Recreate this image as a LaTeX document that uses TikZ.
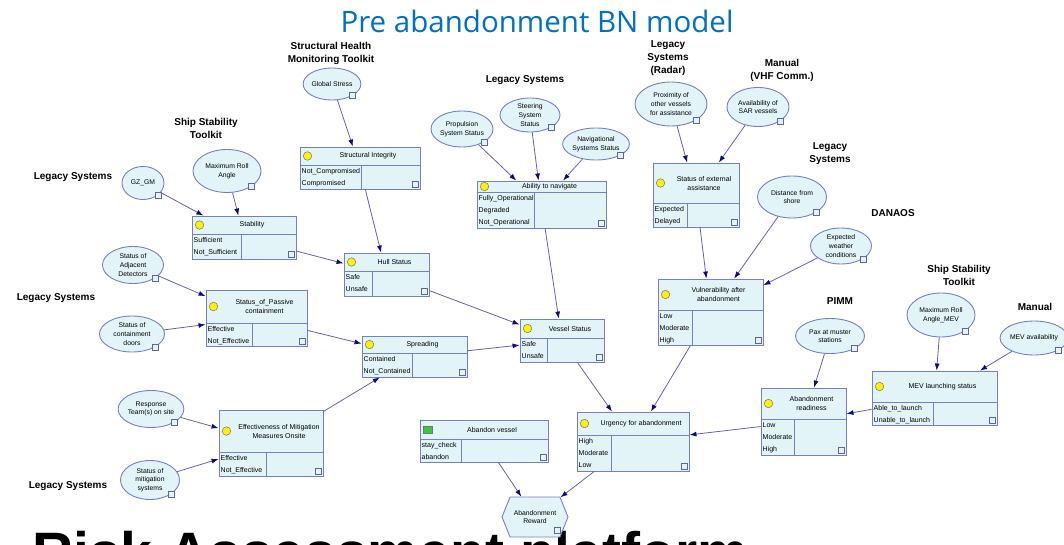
\documentclass[tikz,border=0pt]{standalone}
\usepackage{fontspec}
\setmainfont{Liberation Sans}
\newfontfamily\titlefont{Open Sans}
\usetikzlibrary{arrows.meta,shapes.geometric,shapes.symbols,fit}

\definecolor{bnfill}{RGB}{226,244,248}
\definecolor{bnborder}{RGB}{118,128,188}
\definecolor{bnline}{RGB}{100,100,160}
\definecolor{bntip}{RGB}{12,12,122}
\definecolor{titleblue}{RGB}{0,112,192}

\tikzset{
	bnbox/.style={draw=bnborder, fill=bnfill, line width=0.9pt, inner sep=0pt},
	bnrule/.style={draw=bnborder, line width=0.9pt},
	bnell/.style={ellipse, draw=bnborder, fill=bnfill, line width=0.9pt, inner sep=0pt, align=center, font=\fontsize{6.8}{8.6}\selectfont},
	bnhex/.style={signal, signal to=west and east, signal pointer angle=136, draw=bnborder, fill=bnfill, line width=0.9pt, minimum width=66pt, minimum height=40pt, inner sep=0pt, align=center, font=\fontsize{6.8}{8.6}\selectfont},
	bnmarker/.style={circle, draw=black!55, fill=yellow, minimum size=8.5pt, inner sep=0pt, line width=0.5pt},
	bnicon/.style={rectangle, draw=bnborder!80!black, fill=bnfill, minimum size=6pt, inner sep=0pt, line width=0.6pt},
	bntitle/.style={font=\fontsize{7}{9}\selectfont, align=center},
	bnstates/.style={font=\fontsize{7}{12}\selectfont, align=left, anchor=north west, inner xsep=1.5pt, inner ysep=3pt},
	bnarrow/.style={draw=bnline, line width=0.8pt, -{Latex[length=7pt,width=5pt,color=bntip]}},
	srclabel/.style={font=\bfseries\fontsize{10}{13}\selectfont, align=center},
}

\newcommand{\bnbox}[9]{%
	\node[bnbox, fit={(#2,#3) (#4,#5)}] (#1) {};
	\draw[bnrule] (#2,#6) -- (#4,#6) (#7,#6) -- (#7,#5);
	\node[bnmarker] at ({#2+7.5},{(#3+#6)/2}) {};
	\node[bntitle] at ({(#2+#4)/2+8},{(#3+#6)/2}) {#8};
	\node[bnstates] at (#2,#6) {#9};
	\node[bnicon, anchor=south east] at ({#4-1.5},{#5-1.5}) {};
}
\newcommand{\bnoval}[6]{%
	\node[bnell, minimum width=#4, minimum height=#5] (#1) at (#2,#3) {#6};
	\node[bnicon] at (#1.south east) {};
}

\begin{document}
\begin{tikzpicture}[x=1pt,y=-1pt]
			\useasboundingbox (0,0) rectangle (1064,545);

			\node[font=\titlefont\fontsize{29.5}{32}\selectfont, text=titleblue, anchor=base] (title) at (537,33) {Pre abandonment BN model};
			\node[font=\bfseries\fontsize{57}{60}\selectfont, anchor=north west, inner sep=0pt] (footer) at (32,531) {Risk Assessment platform};

			\node[srclabel] (lshm) at (331,53) {Structural Health\\Monitoring Toolkit};
			\node[srclabel] (lsst) at (206,128) {Ship Stability\\Toolkit};
			\node[srclabel] (lleg1) at (73,177) {Legacy Systems};
			\node[srclabel] (lleg2) at (525,80) {Legacy Systems};
			\node[srclabel] (lradar) at (668,58) {Legacy\\Systems\\(Radar)};
			\node[srclabel] (lvhf) at (782,70) {Manual\\(VHF Comm.)};
			\node[srclabel] (lleg3) at (830,154) {Legacy\\Systems};
			\node[srclabel] (ldanaos) at (893,213) {DANAOS};
			\node[srclabel] (lsst2) at (959,275) {Ship Stability\\Toolkit};
			\node[srclabel] (lpimm) at (840,301) {PIMM};
			\node[srclabel] (lmanual) at (1035,307) {Manual};
			\node[srclabel] (lleg4) at (56,298) {Legacy Systems};
			\node[srclabel] (lleg5) at (68,486) {Legacy Systems};

			\bnoval{gstress}{332}{84}{51}{32}{Global Stress}
			\bnoval{gzgm}{143}{183}{42}{33}{GZ\_GM}
			\bnoval{maxroll}{227}{171}{68}{43}{Maximum Roll\\Angle}
			\bnoval{adjdet}{133}{265}{61}{37}{Status of\\Adjacent\\Detectors}
			\bnoval{doors}{132}{334}{65}{36}{Status of\\containment\\doors}
			\bnoval{resp}{151}{409}{64}{37}{Response\\Team(s) on site}
			\bnoval{mitsys}{150}{480}{59}{39}{Status of\\mitigation\\systems}
			\bnoval{prop}{462}{129}{61}{36}{Propulsion\\System Status}
			\bnoval{steer}{530}{115}{60}{34}{Steering\\System\\Status}
			\bnoval{navsys}{596}{144}{63}{32}{Navigational\\Systems Status}
			\bnoval{prox}{671}{104}{72}{44}{Proximity of\\other vessels\\for assistance}
			\bnoval{sar}{758}{107}{62}{39}{Availability of\\SAR vessels}
			\bnoval{dist}{792}{197}{69}{42}{Distance from\\shore}
			\bnoval{weather}{841}{246}{61}{36}{Expected\\weather\\conditions}
			\bnoval{pax}{830}{336}{69}{35}{Pax at muster\\stations}
			\bnoval{maxrollmev}{941}{315}{68}{44}{Maximum Roll\\Angle\_MEV}
			\bnoval{mevav}{1034}{338}{58}{34}{MEV availability}

			\bnbox{integ}{300}{147}{420}{189}{165}{361}{Structural Integrity}{Not\_Compromised\\Compromised}
			\bnbox{stab}{192}{216}{296}{259}{234}{241}{Stability}{Sufficient\\Not\_Sufficient}
			\bnbox{hull}{344}{253}{429}{296}{271}{372}{Hull Status}{Safe\\Unsafe}
			\bnbox{passive}{206}{290}{307}{346}{323}{252}{Status\_of\_Passive\\containment}{Effective\\Not\_Effective}
			\bnbox{spread}{362}{336}{467}{377}{353}{412}{Spreading}{Contained\\Not\_Contained}
			\bnbox{mitig}{219}{410}{323}{476}{452}{266}{Effectiveness of Mitigation\\Measures Onsite}{Effective\\Not\_Effective}
			\bnbox{nav}{477}{181}{606}{228}{192}{534}{Ability to navigate}{Fully\_Operational\\Degraded\\Not\_Operational}
			\bnbox{vessel}{520}{319}{604}{362}{338}{547}{Vessel Status}{Safe\\Unsafe}
			\bnbox{ext}{653}{163}{739}{227}{203}{687}{Status of external\\assistance}{Expected\\Delayed}
			\bnbox{vuln}{658}{279}{763}{345}{310}{692}{Vulnerability after\\abandonment}{Low\\Moderate\\High}
			\bnbox{urg}{577}{412}{689}{471}{435}{611}{Urgency for abandonment}{High\\Moderate\\Low}
			\bnbox{ready}{761}{388}{846}{455}{419}{794}{Abandonment\\readiness}{Low\\Moderate\\High}
			\bnbox{mev}{872}{371}{997}{425}{402}{933}{MEV launching status}{Able\_to\_launch\\Unable\_to\_launch}
			\begin{scope}[bnmarker/.style={rectangle, draw=black!55, fill=green!75!black!80, minimum width=9pt, minimum height=7pt, inner sep=0pt, line width=0.5pt}]
				\bnbox{aband}{420}{420}{548}{462}{439}{461}{Abandon vessel}{stay\_check\\abandon}
			\end{scope}

			\node[bnhex] (reward) at (535,517) {Abandonment\\Reward};
			\node[bnicon] at (557,530) {};

			\draw[bnarrow] (gstress) -- (integ);
			\draw[bnarrow] (gzgm) -- (stab);
			\draw[bnarrow] (maxroll) -- (stab);
			\draw[bnarrow] (stab) -- (hull);
			\draw[bnarrow] (integ) -- (hull);
			\draw[bnarrow] (adjdet) -- (passive);
			\draw[bnarrow] (doors) -- (passive);
			\draw[bnarrow] (passive) -- (spread);
			\draw[bnarrow] (mitig) -- (spread);
			\draw[bnarrow] (resp) -- (mitig);
			\draw[bnarrow] (mitsys) -- (mitig);
			\draw[bnarrow] (hull) -- (vessel);
			\draw[bnarrow] (spread) -- (vessel);
			\draw[bnarrow] (nav) -- (vessel);
			\draw[bnarrow] (prop) -- (nav);
			\draw[bnarrow] (steer) -- (nav);
			\draw[bnarrow] (navsys) -- (nav);
			\draw[bnarrow] (prox) -- (ext);
			\draw[bnarrow] (sar) -- (ext);
			\draw[bnarrow] (ext) -- (vuln);
			\draw[bnarrow] (dist) -- (vuln);
			\draw[bnarrow] (weather) -- (vuln);
			\draw[bnarrow] (vessel) -- (urg);
			\draw[bnarrow] (vuln) -- (urg);
			\draw[bnarrow] (ready) -- (urg);
			\draw[bnarrow] (mev) -- (ready);
			\draw[bnarrow] (pax) -- (ready);
			\draw[bnarrow] (maxrollmev) -- (mev);
			\draw[bnarrow] (mevav) -- (mev);
			\draw[bnarrow] (aband) -- (reward);
			\draw[bnarrow] (urg) -- (reward);
		\end{tikzpicture}
\end{document}
